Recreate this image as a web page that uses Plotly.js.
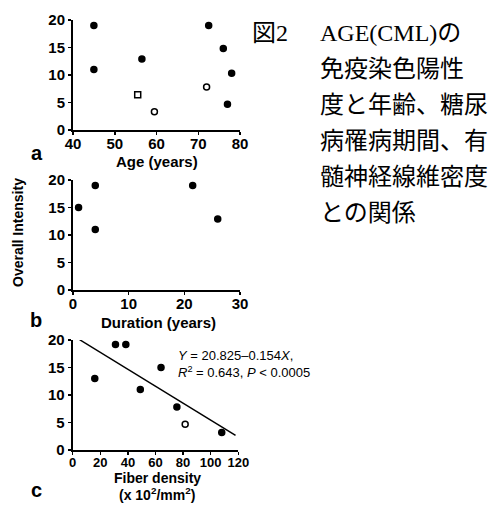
<!DOCTYPE html>
<html>
<head>
<meta charset="utf-8">
<script src="https://cdn.plot.ly/plotly-3.0.1.min.js"></script>
<style>html,body{margin:0;padding:0;background:#fff;}#chart{width:488px;height:505px;}</style>
</head>
<body>
<div id="chart"></div>
<script>
// ---- data ----
const ageA = [45, 45, 56.5, 55.5, 59.5, 72.5, 72, 76, 78, 77];
const intensityA = [19, 11, 12.9, 6.4, 3.3, 19, 7.8, 14.8, 10.3, 4.7];
const symbolsA = ['circle','circle','circle','square-open','circle-open','circle','circle-open','circle','circle','circle'];

const durationB = [1, 4, 4, 21.5, 26];
const intensityB = [15, 19, 11, 19, 12.9];

const fiberC = [16, 31, 38.5, 49, 64, 75.5, 81.5, 108];
const intensityC = [13, 19.2, 19.2, 11, 15, 7.8, 4.7, 3.2];
const symbolsC = ['circle','circle','circle','circle','circle','circle','circle-open','circle'];

const fitIntercept = 20.825;
const fitSlope = -0.154;
const fitRange = [5, 118];

const yTicks = [0, 5, 10, 15, 20];
const xTicksA = [40, 50, 60, 70, 80];
const xTicksB = [0, 10, 20, 30];
const xTicksC = [0, 20, 40, 60, 80, 100, 120];

const captionLines = ['AGE(CML)の', '免疫染色陽性', '度と年齢、糖尿', '病罹病期間、有', '髄神経線維密度', 'との関係'];
const figLabel = '図2';

// ---- helpers ----
const W = 488, H = 505;
const px = x => x / W;
const py = y => 1 - y / H;
const SANS = 'Liberation Sans, Arial, sans-serif';

const fitX = fitRange;
const fitY = fitRange.map(x => fitIntercept + fitSlope * x);

const markerBase = {color: '#000', size: 6, line: {color: '#000', width: 1.5}};

const traces = [
  {x: ageA, y: intensityA, xaxis: 'x', yaxis: 'y', type: 'scatter', mode: 'markers',
   marker: Object.assign({}, markerBase, {symbol: symbolsA}), showlegend: false, hoverinfo: 'x+y'},
  {x: durationB, y: intensityB, xaxis: 'x2', yaxis: 'y2', type: 'scatter', mode: 'markers',
   marker: Object.assign({}, markerBase), showlegend: false, hoverinfo: 'x+y'},
  {x: fiberC, y: intensityC, xaxis: 'x3', yaxis: 'y3', type: 'scatter', mode: 'markers',
   marker: Object.assign({}, markerBase, {symbol: symbolsC}), showlegend: false, hoverinfo: 'x+y'},
  {x: fitX, y: fitY, xaxis: 'x3', yaxis: 'y3', type: 'scatter', mode: 'lines',
   line: {color: '#000', width: 1.5}, showlegend: false, hoverinfo: 'skip'}
];

function xAxis(domainPx, range, ticks, anchor, fsize) {
  return {domain: [px(domainPx[0]), px(domainPx[1])], range: range, anchor: anchor,
    tickmode: 'array', tickvals: ticks, ticktext: ticks.map(String),
    showline: true, linecolor: '#000', linewidth: 2, mirror: false,
    ticks: 'outside', ticklen: 3, tickwidth: 1.5, tickcolor: '#000',
    ticklabelstandoff: -4,
    showgrid: false, zeroline: false, fixedrange: true,
    tickfont: {family: SANS, size: fsize, color: '#000', weight: 'bold'}};
}
function yAxis(domainPx, anchor) {
  return {domain: [py(domainPx[1]), py(domainPx[0])], range: [0, 20], anchor: anchor,
    tickmode: 'array', tickvals: yTicks, ticktext: yTicks.map(String),
    showline: true, linecolor: '#000', linewidth: 2, mirror: false,
    ticks: 'outside', ticklen: 3, tickwidth: 1.5, tickcolor: '#000',
    showgrid: false, zeroline: false, fixedrange: true,
    tickfont: {family: SANS, size: 15, color: '#000', weight: 'bold'}};
}

function ann(text, x, y, opts) {
  return Object.assign({text: text, xref: 'paper', yref: 'paper', x: px(x), y: py(y),
    xanchor: 'center', yanchor: 'middle', showarrow: false,
    font: {family: SANS, size: 14, color: '#000'}}, opts || {});
}
const boldFont = s => ({family: SANS, size: s, color: '#000', weight: 'bold'});
const CAPFONT = {family: 'Liberation Serif, Noto Sans CJK JP, serif', size: 24, color: '#000'};
const EQFONT = {family: SANS, size: 13, color: '#000'};

const annotations = [
  ann('Age (years)', 157, 161, {font: boldFont(15)}),
  ann('Duration (years)', 158, 322, {font: boldFont(15)}),
  ann('Fiber density', 157, 478, {font: boldFont(14)}),
  ann('(x 10<sup>2</sup>/mm<sup>2</sup>)', 157, 494, {font: boldFont(14)}),
  ann('Overall Intensity', 18, 233, {textangle: -90, font: boldFont(14)}),
  ann('a', 37, 153, {font: boldFont(20)}),
  ann('b', 36, 320, {font: boldFont(20)}),
  ann('c', 36, 490, {font: boldFont(20)}),
  ann('<i>Y</i> = 20.825–0.154<i>X</i>,', 176, 355, {xanchor: 'left', font: EQFONT}),
  ann('<i>R</i><sup>2</sup> = 0.643, <i>P</i> &lt; 0.0005', 176, 372, {xanchor: 'left', font: EQFONT}),
  ann(figLabel, 250, 33, {xanchor: 'left', font: CAPFONT})
];
const lineY = [33, 69, 105, 141, 177, 213];
captionLines.forEach((t, i) => annotations.push(ann(t, 318, lineY[i], {xanchor: 'left', font: CAPFONT})));

const layout = {
  width: W, height: H,
  margin: {l: 0, r: 0, t: 0, b: 0, pad: 0},
  paper_bgcolor: '#fff', plot_bgcolor: 'rgba(0,0,0,0)',
  showlegend: false,
  xaxis: xAxis([73, 240], [40, 80], xTicksA, 'y', 15),
  yaxis: yAxis([20, 130], 'x'),
  xaxis2: xAxis([73, 240], [0, 30], xTicksB, 'y2', 15),
  yaxis2: yAxis([180, 290], 'x2'),
  xaxis3: xAxis([72.7, 238.3], [0, 120], xTicksC, 'y3', 13),
  yaxis3: yAxis([340, 450], 'x3'),
  annotations: annotations
};

Plotly.newPlot('chart', traces, layout, {displayModeBar: false, staticPlot: true});
</script>
</body>
</html>
